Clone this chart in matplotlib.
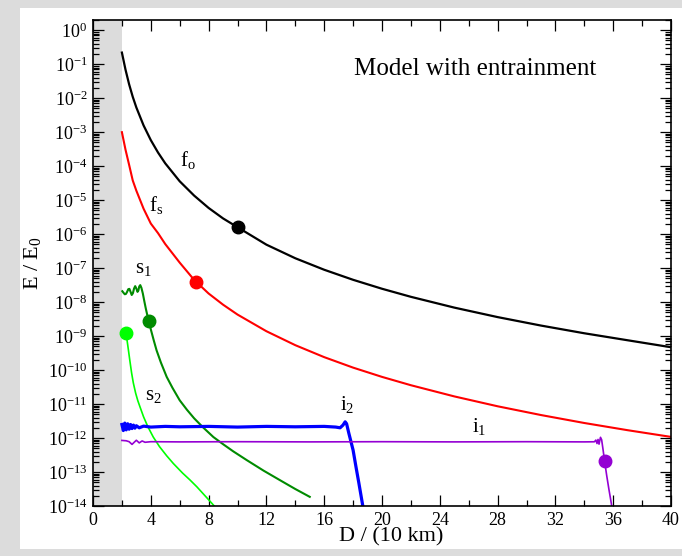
import numpy as np
import matplotlib
matplotlib.use("Agg")
import matplotlib.pyplot as plt
from matplotlib.patches import Rectangle
from matplotlib.ticker import LogLocator, MultipleLocator, NullFormatter

plt.rcParams['font.family'] = ['Liberation Serif', 'DejaVu Serif']
plt.rcParams['mathtext.fontset'] = 'custom'
plt.rcParams['mathtext.rm'] = 'Liberation Serif'
plt.rcParams['mathtext.it'] = 'Liberation Serif:italic'
plt.rcParams['mathtext.bf'] = 'Liberation Serif:bold'

# f_o (black)
fo_x = [2.0, 2.25, 2.5, 2.75, 3.0, 3.5, 4.0, 4.5, 5.0, 6.0, 7.0, 8.0, 9.0, 10.0,
        12.0, 14.0, 16.0, 18.0, 20.0, 22.0, 25.0, 28.0, 31.0, 34.0, 37.0, 40.0]
fo_E = [2.2e-1, 6.9e-2, 2.56e-2, 1.1e-2, 5.33e-3, 1.58e-3, 5.84e-4, 2.52e-4, 1.21e-4, 3.59e-5,
        1.36e-5, 5.9e-6, 2.9e-6, 1.6e-6,
        4.9e-7, 1.95e-7, 8.95e-8, 4.53e-8, 2.47e-8, 1.43e-8, 6.89e-9, 3.62e-9, 2.04e-9,
        1.21e-9, 7.53e-10, 4.7e-10]

# f_s (red)
fs_x = [2.0, 2.25, 2.5, 2.75, 3.0, 3.5, 4.0, 4.5, 5.0, 6.0, 7.0, 8.0, 9.0, 10.0,
        12.0, 14.0, 16.0, 18.0, 20.0, 22.0, 25.0, 28.0, 31.0, 34.0, 37.0, 40.0]
fs_E = [1.0e-3, 3.05e-4, 1.09e-4, 3.8e-5, 1.9e-5, 5.6e-6, 2.05e-6, 1.07e-6, 5.1e-7, 1.45e-7,
        4.5e-8, 1.79e-8, 8.4e-9, 4.3e-9,
        1.39e-9, 5.4e-10, 2.4e-10, 1.18e-10, 6.3e-11, 3.58e-11, 1.68e-11, 8.6e-12, 4.75e-12,
        2.77e-12, 1.7e-12, 1.08e-12]

# s_1 (dark green)
s1_x = [2.03, 2.12, 2.2, 2.28, 2.36, 2.44, 2.52, 2.6, 2.68, 2.76, 2.84, 2.92, 3.0, 3.08, 3.14,
        3.2, 3.27, 3.35, 3.45, 3.55, 3.65, 3.75, 3.85, 4.0, 4.2, 4.4, 4.7, 5.1, 5.5, 6.0, 6.5,
        7.0, 7.6, 8.33, 9.0, 9.7, 10.64, 11.8, 12.94, 14.0, 15.0]
s1_E = [2.09e-8, 1.86e-8, 1.7e-8, 1.74e-8, 2.0e-8, 2.4e-8, 2.45e-8, 2.0e-8, 1.62e-8, 1.82e-8,
        2.5e-8, 2.95e-8, 2.5e-8, 2.0e-8, 2.19e-8,
        2.88e-8, 3.16e-8, 2.63e-8, 1.78e-8, 1.07e-8, 6.6e-9, 4.27e-9, 2.82e-9, 1.58e-9, 7.6e-10,
        3.8e-10, 1.66e-10, 6.3e-11, 3.0e-11, 1.29e-11, 6.8e-12,
        3.8e-12, 2.09e-12, 1.07e-12, 6.6e-13, 4.07e-13, 2.24e-13, 1.1e-13, 5.75e-14, 3.16e-14, 1.86e-14]

# s_2 (light green)
s2_x = [2.05, 2.26, 2.35, 2.44, 2.55, 2.67, 2.79, 2.95, 3.1, 3.25, 3.5, 3.8, 4.17, 4.6, 5.1,
        5.56, 6.2, 6.7, 7.18, 7.8, 8.33, 8.6]
s2_E = [1.32e-9, 1.23e-9, 7.9e-10, 4.2e-10, 1.9e-10, 8.3e-11, 4.2e-11, 2.1e-11, 1.26e-11, 8.3e-12,
        4.2e-12, 2.14e-12, 1.07e-12, 5.6e-13, 3.0e-13,
        1.78e-13, 9.3e-14, 5.9e-14, 3.7e-14, 1.9e-14, 1.07e-14, 7.9e-15]

# i_2 (blue)
i2_x = [2.0, 2.1, 2.2, 2.3, 2.4, 2.5, 2.6, 2.7, 2.8, 2.9, 3.0, 3.2, 3.5, 4.0, 5.0, 6.0, 8.0, 10.0,
        12.0, 14.0, 16.0, 16.8, 17.1, 17.3, 17.45, 17.55, 17.7, 17.85, 18.0, 18.2, 18.4, 18.66, 18.8]
i2_E = [2.5e-12, 1.66e-12, 2.75e-12, 1.74e-12, 2.63e-12, 1.82e-12, 2.5e-12, 1.9e-12, 2.4e-12, 1.95e-12,
        2.3e-12, 2.0e-12, 2.24e-12, 2.1e-12, 2.2e-12, 2.14e-12, 2.2e-12, 2.1e-12,
        2.2e-12, 2.14e-12, 2.2e-12, 2.1e-12, 2.0e-12, 2.4e-12, 3.0e-12, 2.63e-12, 1.41e-12, 7.9e-13,
        4.4e-13, 1.41e-13, 4.7e-14, 1.07e-14, 5e-15]

# i_1 (violet)
i1_x = [2.0, 2.3, 2.5, 2.7, 2.85, 3.0, 3.2, 3.4, 3.6, 4.0, 6.0, 10.0, 15.0, 20.0, 25.0, 30.0,
        34.0, 34.7, 34.8, 34.88, 34.95, 35.02, 35.12, 35.2, 35.3, 35.4, 35.55, 35.7, 35.9, 36.0]
i1_E = [8.5e-13, 8.3e-13, 7.8e-13, 6.5e-13, 7.5e-13, 8.6e-13, 7.2e-13, 8.2e-13, 7.5e-13, 7.8e-13, 7.7e-13,
        7.8e-13, 7.7e-13, 7.8e-13, 7.7e-13, 7.8e-13,
        7.7e-13, 7.76e-13, 8.7e-13, 6.9e-13, 9.1e-13, 6.6e-13, 1.05e-12, 8.9e-13, 4.5e-13, 2.14e-13,
        7.9e-14, 3.16e-14, 1.0e-14, 6.3e-15]

# dots
dot_x = [10.0, 7.1, 3.85, 2.26, 35.4]
dot_E = [1.65e-6, 4.0e-8, 2.82e-9, 1.23e-9, 2.14e-13]
dot_c = ['black', 'red', '#008b00', '#00ff00', '#9400d3']

fig = plt.figure(figsize=(6.82, 5.56), dpi=100, facecolor='#dcdcdc')
fig.patches.append(Rectangle((20 / 682, 1 - 549 / 556), 662 / 682, 541 / 556,
                             transform=fig.transFigure, facecolor='white', edgecolor='none', zorder=-1))
ax = fig.add_axes([93 / 682, 1 - 506 / 556, 578 / 682, 486 / 556])

ax.axvspan(0, 2, color='#dcdcdc', lw=0, zorder=0)

ax.semilogy(fo_x, fo_E, color='black', lw=1.6)
ax.semilogy(fs_x, fs_E, color='red', lw=1.5)
ax.semilogy(s1_x, s1_E, color='#008b00', lw=1.5)
ax.semilogy(s2_x, s2_E, color='#00ff00', lw=1.2)
ax.semilogy(i2_x, i2_E, color='blue', lw=2.3)
ax.semilogy(i1_x, i1_E, color='#9400d3', lw=1.2)
for x, e, c in zip(dot_x, dot_E, dot_c):
	ax.plot(x, e, 'o', color=c, ms=9, zorder=5)

ax.set_xlim(0, 40)
ax.set_ylim(1e-14, 2)
ax.xaxis.set_major_locator(MultipleLocator(4))
ax.xaxis.set_minor_locator(MultipleLocator(2))
ax.yaxis.set_major_locator(LogLocator(base=10, numticks=40))
ax.yaxis.set_minor_locator(LogLocator(base=10, subs=np.arange(2, 10), numticks=40))
ax.yaxis.set_minor_formatter(NullFormatter())
ax.tick_params(which='both', direction='in', top=True, right=True, labelsize=13, width=0.9)
ax.tick_params(which='major', length=8, pad=4)
ax.tick_params(which='minor', length=4)
for s in ax.spines.values():
	s.set_linewidth(1.2)

ax.text(0.516, -0.064, 'D / (10 km)', transform=ax.transAxes, ha='center', va='center', fontsize=16)
ax.text(-0.105, 0.5, r'E / E$_0$', transform=ax.transAxes, ha='center', va='center', rotation=90, fontsize=16)
ax.text(0.451, 0.887, 'Model with entrainment', transform=ax.transAxes, ha='left', va='baseline', fontsize=18)

ax.text(6.0, 1.0e-4, r'f$_\mathrm{o}$', fontsize=15, va='baseline')
ax.text(3.85, 4.9e-6, r'f$_\mathrm{s}$', fontsize=15, va='baseline')
ax.text(2.9, 7.4e-8, r's$_1$', fontsize=15, va='baseline')
ax.text(3.6, 1.3e-11, r's$_2$', fontsize=15, va='baseline')
ax.text(17.1, 6.6e-12, r'i$_2$', fontsize=15, va='baseline')
ax.text(26.2, 1.5e-12, r'i$_1$', fontsize=15, va='baseline')

fig.savefig('out.png', dpi=100, facecolor=fig.get_facecolor())
